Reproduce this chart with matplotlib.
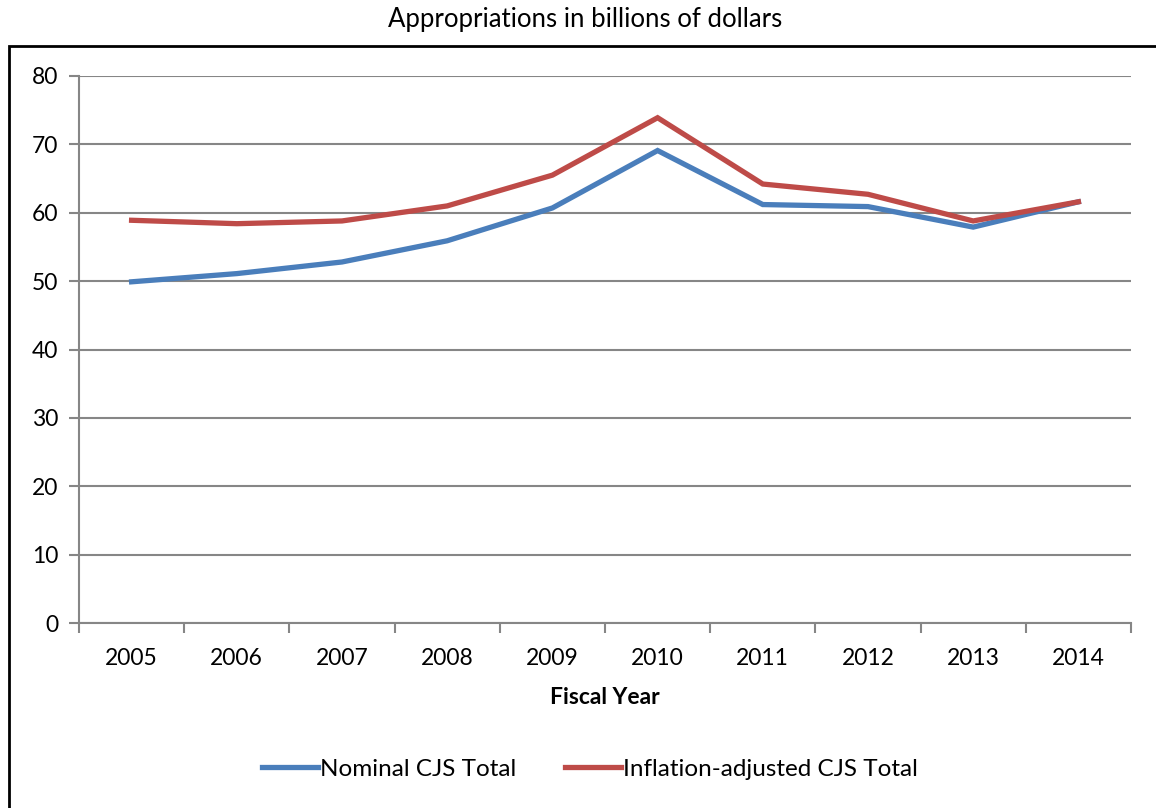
import matplotlib
matplotlib.use("Agg")
import matplotlib.pyplot as plt
from matplotlib.patches import Rectangle

years = ["2005", "2006", "2007", "2008", "2009", "2010", "2011", "2012", "2013", "2014"]
nominal = [49.9, 51.1, 52.8, 55.9, 60.7, 69.1, 61.2, 60.9, 57.9, 61.6]
inflation_adjusted = [58.9, 58.4, 58.8, 61.0, 65.5, 73.9, 64.2, 62.7, 58.8, 61.6]
yticks = [0, 10, 20, 30, 40, 50, 60, 70, 80]

plt.rcParams['font.family'] = ['Lato', 'DejaVu Sans']

W, H = 1156, 808
fig = plt.figure(figsize=(W / 100, H / 100), dpi=100)
ax = fig.add_axes([79 / W, 1 - 623 / H, (1131 - 79) / W, (623 - 76) / H])

x = list(range(len(years)))
ax.plot(x, nominal, color="#4A7EBB", lw=3.8, solid_joinstyle="miter", label="Nominal CJS Total", zorder=3)
ax.plot(x, inflation_adjusted, color="#BE4B48", lw=3.8, solid_joinstyle="miter", label="Inflation-adjusted CJS Total", zorder=3)

ax.set_xlim(-0.5, len(years) - 0.5)
ax.set_ylim(0, 80)
ax.set_yticks(yticks)
ax.set_yticklabels([str(v) for v in yticks], fontsize=16.5)
ax.yaxis.grid(True, color="#868686", lw=1.5)
ax.set_axisbelow(True)

ax.set_xticks(x)
ax.set_xticklabels(years, fontsize=16.5)
ax.tick_params(axis="x", which="major", length=0, pad=18)
ax.set_xticks([i - 0.5 for i in range(len(years) + 1)], minor=True)
ax.tick_params(axis="x", which="minor", length=7, width=1.5, color="#868686")
ax.tick_params(axis="y", length=7, width=1.5, color="#868686", pad=8)

for s in ["top", "right"]:
    ax.spines[s].set_visible(False)
for s in ["left", "bottom"]:
    ax.spines[s].set_color("#868686")
    ax.spines[s].set_linewidth(1.5)

ax.set_xlabel("Fiscal Year", fontsize=16.5, fontweight="bold", labelpad=13)

fig.text(585 / W, 1 - 19 / H, "Appropriations in billions of dollars", ha="center", va="center", fontsize=18.5)

fig.patches.append(Rectangle((9 / W, -0.01), 1.2, 1 - 46 / H + 0.01, transform=fig.transFigure,
                             fill=False, edgecolor="black", lw=2, clip_on=False))

fig.legend(loc="center", bbox_to_anchor=(590 / W, 1 - 769 / H), ncol=2, frameon=False,
           fontsize=17.5, handlelength=2.3, handletextpad=0.1, columnspacing=2.0)

fig.savefig("out.png", dpi=100)
